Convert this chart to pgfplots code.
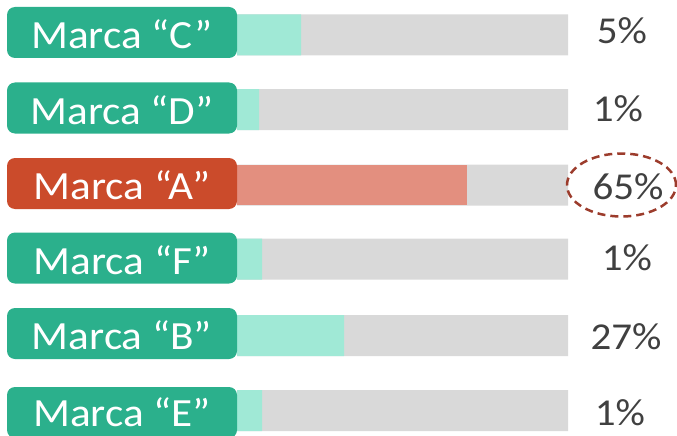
\documentclass[border=0pt]{standalone}
\usepackage{fontspec}
\setmainfont{Carlito}
\newfontfamily\labfont{Carlito}[FakeStretch=1.08]
\usepackage{pgfplots}
\pgfplotsset{compat=1.18}
\usetikzlibrary{shapes.geometric}

\definecolor{boxGreen}{HTML}{2BB08C}
\definecolor{barMint}{HTML}{A0E9D6}
\definecolor{boxRed}{HTML}{CB4B2B}
\definecolor{barSalmon}{HTML}{E38F7F}
\definecolor{barGray}{HTML}{D9D9D9}
\definecolor{ringRed}{HTML}{9C3C2C}
\definecolor{txtGray}{HTML}{404040}

% x in px measured from the end of the label boxes, y in px from the top
\begin{document}
\begin{tikzpicture}
\begin{axis}[
    width=677bp, height=436bp, scale only axis,
    xmin=-237, xmax=440, ymin=0, ymax=436,
    y dir=reverse,
    hide axis,
    every node near coord/.append style={anchor=center},
]
% gray track
\addplot[xbar, bar shift=0, bar width=41, fill=barGray, draw=none] table {
331 35
331 109.7
331 185
331 259
331 335.5
331 410.5
};
% filled part (bar length as drawn)
\addplot[xbar, bar shift=0, bar width=41, fill=barMint, draw=none] table {
64 35
22 109.7
25 259
107 335.5
25 410.5
};
\addplot[xbar, bar shift=0, bar width=40, fill=barSalmon, draw=none] table {
230 185
};
% label boxes
\addplot[xbar, bar shift=0, bar width=51, fill=boxGreen, draw=none, rounded corners=8bp] table {
-230 32.5
-230 108
-230 258
-230 333.5
-230 412.5
};
\addplot[xbar, bar shift=0, bar width=51, fill=boxRed, draw=none, rounded corners=8bp] table {
-230 183.5
};
% brand names
\addplot[only marks, mark=*, mark size=0pt, mark options={draw=none, fill=none},
    point meta=explicit symbolic, nodes near coords,
    nodes near coords style={text=white, inner sep=0pt, font=\labfont\fontsize{40bp}{48bp}\selectfont}]
    table[col sep=comma, row sep=\\, meta=label] {
x,y,label\\
-115,34.5,Marca “C”\\
-115,110,Marca “D”\\
-115,185.5,Marca “A”\\
-115,260,Marca “F”\\
-115,335.5,Marca “B”\\
-115,412.5,Marca “E”\\
};
% shares
\addplot[only marks, mark=*, mark size=0pt, mark options={draw=none, fill=none},
    point meta=explicit symbolic, nodes near coords,
    nodes near coords style={text=txtGray, inner sep=0pt, font=\labfont\fontsize{38bp}{46bp}\selectfont}]
    table[col sep=comma, row sep=\\, meta=label] {
x,y,label\\
385,31,5\%\\
381,109,1\%\\
391,187,65\%\\
390,258,1\%\\
389,337,27\%\\
383,413,1\%\\
};
% dashed ring round the leader
\addplot[only marks, mark=*, mark size=0pt, mark options={draw=none, fill=none},
    nodes near coords={},
    nodes near coords style={ellipse, draw=ringRed, line width=2.5bp,
        dash pattern=on 8bp off 5bp, minimum width=109bp, minimum height=63bp, inner sep=0pt}]
    table {
384.5 185
};
\end{axis}
\pgfresetboundingbox
\path[use as bounding box] (current axis.south west) rectangle (current axis.north east);
\end{tikzpicture}
\end{document}
